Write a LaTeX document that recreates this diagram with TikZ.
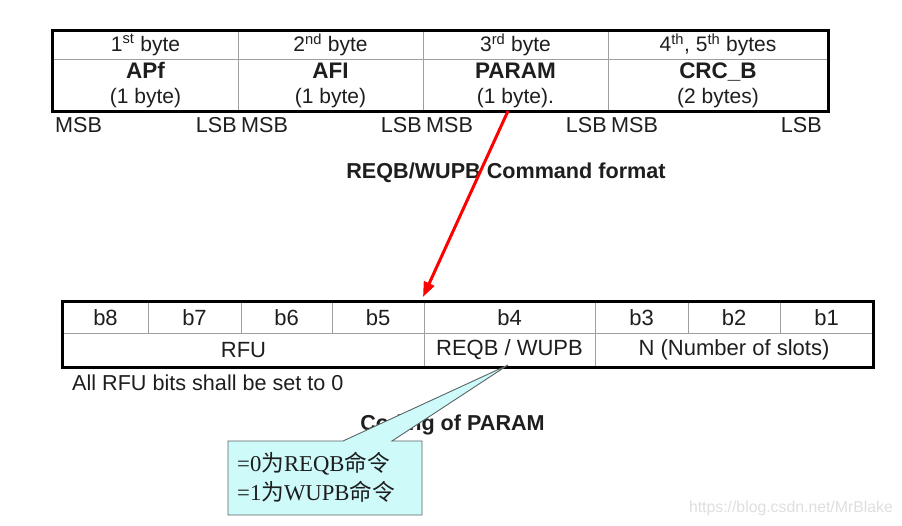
\documentclass[tikz,border=0pt]{standalone}
\usepackage{fontspec}
\setmainfont{Liberation Sans}
\newfontfamily\cjk{Noto Sans CJK SC}
\newfontfamily\serifl{Liberation Serif}
\usetikzlibrary{arrows.meta}
\definecolor{calloutfill}{RGB}{206,250,250}
\definecolor{calloutline}{RGB}{90,100,100}
\definecolor{txt}{RGB}{30,30,30}
\begin{document}
\begin{tikzpicture}[x=1pt,y=-1pt,
  cell/.style={draw=gray!75,line width=0.9pt,inner sep=0pt,align=center,
    text=txt,font=\fontsize{21}{25}\selectfont},
  bcell/.style={cell,font=\fontsize{22}{25}\selectfont},
  lbl/.style={inner sep=0pt,text=txt,font=\fontsize{21.6}{25}\selectfont},
  caption/.style={inner sep=0pt,text=txt,font=\bfseries\fontsize{21.6}{25}\selectfont},
  frame/.style={line width=3.5pt,line join=miter}]
\useasboundingbox (0,0) rectangle (902,526);
\fill[white] (0,0) rectangle (902,526);

% ---- top table ----
\node[cell,minimum width=185,minimum height=28] (h1) at (145.5,45) {1\textsuperscript{st} byte};
\node[cell,minimum width=185,minimum height=28] (h2) at (330.5,45) {2\textsuperscript{nd} byte};
\node[cell,minimum width=185,minimum height=28] (h3) at (515.5,45) {3\textsuperscript{rd} byte};
\node[cell,minimum width=220,minimum height=28] (h4) at (718,45) {4\textsuperscript{th}, 5\textsuperscript{th} bytes};
\node[cell,minimum width=185,minimum height=52] (d1) at (145.5,85) {{\bfseries\fontsize{22.5}{25}\selectfont APf}\\(1 byte)};
\node[cell,minimum width=185,minimum height=52] (d2) at (330.5,85) {{\bfseries\fontsize{22.5}{25}\selectfont AFI}\\(1 byte)};
\node[cell,minimum width=185,minimum height=52] (d3) at (515.5,85) {{\bfseries\fontsize{22.5}{25}\selectfont PARAM}\\(1 byte).};
\node[cell,minimum width=220,minimum height=52] (d4) at (718,85) {{\bfseries\fontsize{22.5}{25}\selectfont CRC\_B}\\(2 bytes)};
\draw[frame] (h1.north west) rectangle (d4.south east);

% MSB / LSB labels
\node[lbl,anchor=west] (m1) at (55,125) {MSB};
\node[lbl,anchor=east] (l1) at (237,125) {LSB};
\node[lbl,anchor=west] (m2) at (241,125) {MSB};
\node[lbl,anchor=east] (l2) at (422,125) {LSB};
\node[lbl,anchor=west] (m3) at (426,125) {MSB};
\node[lbl,anchor=east] (l3) at (607,125) {LSB};
\node[lbl,anchor=west] (m4) at (611,125) {MSB};
\node[lbl,anchor=east] (l4) at (822,125) {LSB};

\node[caption] (cap1) at (506,173) {REQB/WUPB Command format};

% ---- bottom table ----
\node[bcell,minimum width=85,minimum height=31] (b8) at (105.5,317.5) {b8};
\node[bcell,minimum width=93,minimum height=31] (b7) at (194.5,317.5) {b7};
\node[bcell,minimum width=91,minimum height=31] (b6) at (286.5,317.5) {b6};
\node[bcell,minimum width=92,minimum height=31] (b5) at (378,317.5) {b5};
\node[bcell,minimum width=171,minimum height=31] (b4) at (509.5,317.5) {b4};
\node[bcell,minimum width=93,minimum height=31] (b3) at (641.5,317.5) {b3};
\node[bcell,minimum width=92,minimum height=31] (b2) at (734,317.5) {b2};
\node[bcell,minimum width=93,minimum height=31] (b1) at (826.5,317.5) {b1};
\node[bcell,minimum width=361,minimum height=34] (rfu) at (243.5,350) {RFU};
\node[bcell,minimum width=171,minimum height=34] (rw) at (509.5,350) {REQB / WUPB};
\node[bcell,minimum width=278,minimum height=34] (ns) at (734,350) {N (Number of slots)};
\draw[frame] (b8.north west) rectangle (ns.south east);

\node[lbl,anchor=west] (note) at (72,383) {All RFU bits shall be set to 0};

\node[caption] (cap2) at (452.5,425) {Coding of PARAM};

% ---- red arrow ----
\coordinate (arrS) at (508,111);
\coordinate (arrE) at (423,297);
\draw[red,line width=3pt,-{Triangle[length=15pt,width=11pt]}] (arrS) -- (arrE);

% ---- callout ----
\coordinate (tip) at (508,365);
\draw[fill=calloutfill,draw=calloutline,line width=0.9pt,line join=miter]
  (228,441) -- (343,441) -- (tip) -- (392,441) -- (422,441) -- (422,515) -- (228,515) -- cycle;
\node[inner sep=0pt,anchor=north west,align=left,text=txt,
  font=\serifl\fontsize{22.7}{29}\selectfont] (ctext) at (237,452)
  {=0{\cjk 为}REQB{\cjk 命令}\\=1{\cjk 为}WUPB{\cjk 命令}};

% watermark
\node[inner sep=0pt,anchor=east,text=gray!25,font=\fontsize{15.8}{18}\selectfont] (wm) at (893,508) {https://blog.csdn.net/MrBlake};
\end{tikzpicture}
\end{document}
